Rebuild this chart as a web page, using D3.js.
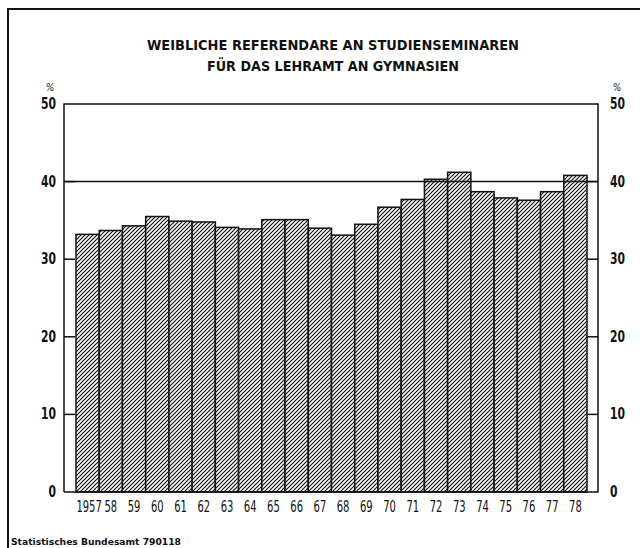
<!DOCTYPE html>
<html>
<head>
<meta charset="utf-8">
<script src="https://cdn.jsdelivr.net/npm/d3@7"></script>
<style>
  body { margin: 0; background: #fff; }
  svg { display: block; }
  .tick-label { font-family: "DejaVu Sans Condensed", sans-serif; font-size: 15px; font-weight: bold; fill: #111; }
  .year-label { font-family: "DejaVu Sans Condensed", sans-serif; font-size: 15px; fill: #111; }
  .title { font-family: "DejaVu Sans Condensed", sans-serif; font-size: 14px; font-weight: bold; fill: #111; }
  .source { font-family: "DejaVu Sans Condensed", sans-serif; font-size: 9px; font-weight: bold; fill: #111; }
</style>
</head>
<body>
<script>
/* jshint esversion: 6 */

var width = 640,
    height = 548;

// chart data
var years = ['1957', '58', '59', '60', '61', '62', '63', '64', '65', '66', '67',
             '68', '69', '70', '71', '72', '73', '74', '75', '76', '77', '78'];
var shares = [33.2, 33.7, 34.3, 35.5, 34.9, 34.8, 34.1, 33.9, 35.1, 35.1, 34.0,
              33.1, 34.5, 36.7, 37.7, 40.3, 41.2, 38.7, 37.9, 37.6, 38.7, 40.8];
var tickValues = [0, 10, 20, 30, 40, 50];
var titleLines = ['WEIBLICHE REFERENDARE AN STUDIENSEMINAREN', 'FÜR DAS LEHRAMT AN GYMNASIEN'];
var sourceText = 'Statistisches Bundesamt 790118';

var plot = {left: 64, right: 598, top: 104, bottom: 492};

var svg = d3.select('body')
    .append('svg')
    .attr('width', width)
    .attr('height', height);

// hatching pattern
var pat = svg.append('defs').append('pattern')
    .attr('id', 'hatch')
    .attr('patternUnits', 'userSpaceOnUse')
    .attr('width', 4)
    .attr('height', 4);
pat.append('rect').attr('width', 4).attr('height', 4).attr('fill', '#fff');
pat.append('path')
    .attr('d', 'M-1,1 l2,-2 M0,4 l4,-4 M3,5 l2,-2')
    .attr('stroke', '#111')
    .attr('stroke-width', 1.2);

// page frame
svg.append('path')
    .attr('d', 'M8,' + height + ' V9 H' + width)
    .attr('fill', 'none')
    .attr('stroke', '#111')
    .attr('stroke-width', 2);

var x = d3.scaleBand()
    .domain(years)
    .range([76, 587])
    .padding(0);

var y = d3.scaleLinear()
    .domain([0, 50])
    .range([plot.bottom, plot.top]);

// narrow, tall lettering like the print
function narrow(px, py, sx) {
    return 'translate(' + px + ',' + py + ') scale(' + sx + ',1)';
}

// title
svg.append('g').selectAll('text')
    .data(titleLines).enter()
    .append('text')
    .attr('class', 'title')
    .attr('x', 333)
    .attr('y', (d, i) => 50 + i * 21)
    .attr('text-anchor', 'middle')
    .attr('textLength', (d, i) => i === 0 ? 372 : 252)
    .attr('lengthAdjust', 'spacingAndGlyphs')
    .text(d => d);

// bars
svg.append('g').selectAll('rect')
    .data(shares).enter()
    .append('rect')
    .attr('x', (d, i) => x(years[i]))
    .attr('y', d => y(d))
    .attr('width', x.bandwidth())
    .attr('height', d => y(0) - y(d))
    .attr('fill', 'url(#hatch)')
    .attr('stroke', '#111')
    .attr('stroke-width', 1.5);

// frame of plot: left, top, right, base
var axes = svg.append('g')
    .attr('fill', 'none')
    .attr('stroke', '#111')
    .attr('stroke-width', 1.5);

axes.append('path')
    .attr('d', 'M' + plot.left + ',' + y(0) + ' V' + y(50) + ' H' + plot.right + ' V' + y(0) + ' H' + plot.left);

// gridline at 40
axes.append('line')
    .attr('x1', plot.left).attr('x2', plot.right)
    .attr('y1', y(40)).attr('y2', y(40));

// inward ticks
var inner = tickValues.filter(d => d > 0 && d < 50);
axes.selectAll('.tl')
    .data(inner).enter()
    .append('line')
    .attr('x1', plot.left).attr('x2', plot.left + 11)
    .attr('y1', d => y(d)).attr('y2', d => y(d));
axes.selectAll('.tr')
    .data(inner).enter()
    .append('line')
    .attr('x1', plot.right - 11).attr('x2', plot.right)
    .attr('y1', d => y(d)).attr('y2', d => y(d));

// tick labels
svg.append('g').selectAll('text')
    .data(tickValues).enter()
    .append('text')
    .attr('class', 'tick-label')
    .attr('transform', d => narrow(56, y(d) + 5, 0.8))
    .attr('text-anchor', 'end')
    .text(d => d);

svg.append('g').selectAll('text')
    .data(tickValues).enter()
    .append('text')
    .attr('class', 'tick-label')
    .attr('transform', d => narrow(610, y(d) + 5, 0.8))
    .attr('text-anchor', 'start')
    .text(d => d);

// percent signs
svg.selectAll('.pct')
    .data([50, 617]).enter()
    .append('text')
    .attr('class', 'year-label')
    .attr('x', d => d)
    .attr('y', 91)
    .attr('text-anchor', 'middle')
    .style('font-size', '10px')
    .style('font-style', 'italic')
    .text('%');

// year labels
svg.append('g').selectAll('text')
    .data(years).enter()
    .append('text')
    .attr('class', 'year-label')
    .attr('transform', d => narrow(x(d) + x.bandwidth() / 2 + (d.length > 2 ? 1.5 : 0), 512, 0.74))
    .attr('text-anchor', 'middle')
    .text(d => d);

// source
svg.append('text')
    .attr('class', 'source')
    .attr('x', 11)
    .attr('y', 545)
    .attr('textLength', 170)
    .attr('lengthAdjust', 'spacingAndGlyphs')
    .text(sourceText);
</script>
</body>
</html>
